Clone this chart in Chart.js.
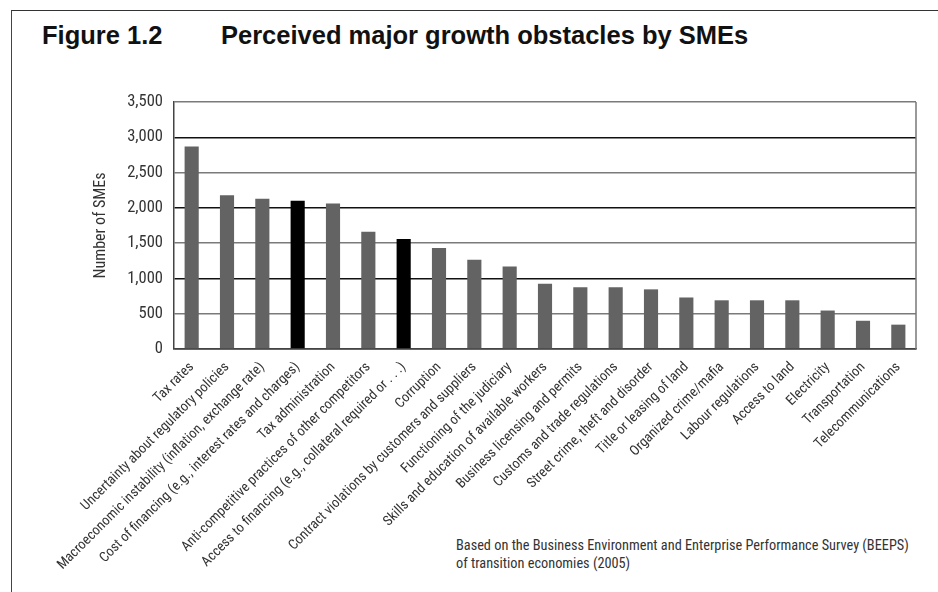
<!DOCTYPE html>
<html>
<head>
<meta charset="utf-8">
<script src="https://cdn.jsdelivr.net/npm/chart.js@4"></script>
<style>
  html, body { margin: 0; padding: 0; background: #fff; }
  #wrap { position: relative; width: 938px; height: 592px; overflow: hidden; }
  #frame { position: absolute; left: 11px; top: 10px; width: 1000px; height: 700px; border-left: 1.5px solid #444; border-top: 1.5px solid #333; }
  .title { position: absolute; top: 21px; font-family: "Liberation Sans", Arial, sans-serif; font-weight: bold; font-size: 25.5px; color: #111; white-space: nowrap; }
  .note { position: absolute; left: 456px; font-family: "Roboto Condensed", "Liberation Sans", sans-serif; font-size: 14.3px; line-height: 18px; color: #333; white-space: nowrap; }
  canvas { position: absolute; left: 0; top: 0; }
</style>
</head>
<body>
<div id="wrap">
  <div id="frame"></div>
  <div class="title" style="left:42px">Figure 1.2</div>
  <div class="title" style="left:221px">Perceived major growth obstacles by SMEs</div>
  <div class="note" style="top:536px">Based on the Business Environment and Enterprise Performance Survey (BEEPS)</div>
  <div class="note" style="top:554px">of transition economies (2005)</div>
  <canvas id="c" width="938" height="592"></canvas>
</div>
<script>
const categories = [
  "Tax rates",
  "Uncertainty about regulatory policies",
  "Macroeconomic instability (inflation, exchange rate)",
  "Cost of financing (e.g., interest rates and charges)",
  "Tax administration",
  "Anti-competitive practices of other competitors",
  "Access to financing (e.g., collateral required or . . .)",
  "Corruption",
  "Contract violations by customers and suppliers",
  "Functioning of the judiciary",
  "Skills and education of available workers",
  "Business licensing and permits",
  "Customs and trade regulations",
  "Street crime, theft and disorder",
  "Title or leasing of land",
  "Organized crime/mafia",
  "Labour regulations",
  "Access to land",
  "Electricity",
  "Transportation",
  "Telecommunications"
];
const smeCounts = [2870, 2180, 2130, 2100, 2060, 1660, 1560, 1430, 1265, 1170, 925, 875, 875, 845, 730, 690, 690, 690, 545, 400, 345];
const highlighted = [false, false, false, true, false, false, true, false, false, false, false, false, false, false, false, false, false, false, false, false, false];
const yTicks = [0, 500, 1000, 1500, 2000, 2500, 3000, 3500];

const FONT = "'Roboto Condensed', 'Liberation Sans', sans-serif";

const borderPlugin = {
  id: 'plotBorder',
  afterDraw(chart) {
    const a = chart.chartArea, ctx = chart.ctx;
    ctx.save();
    ctx.strokeStyle = '#777';
    ctx.lineWidth = 1.5;
    ctx.beginPath();
    ctx.moveTo(a.right, a.top);
    ctx.lineTo(a.right, a.bottom);
    ctx.stroke();
    ctx.restore();
  }
};

new Chart(document.getElementById('c'), {
  type: 'bar',
  data: {
    labels: categories,
    datasets: [{
      data: smeCounts,
      backgroundColor: highlighted.map(h => h ? '#000000' : '#636363'),
      categoryPercentage: 1.0,
      barPercentage: 0.4
    }]
  },
  options: {
    responsive: false,
    animation: false,
    devicePixelRatio: 1,
    layout: { padding: { top: 102, right: 22, left: 91, bottom: 0 } },
    plugins: { legend: { display: false }, tooltip: { enabled: false } },
    scales: {
      x: {
        grid: { display: false },
        border: { display: true, color: '#444', width: 1.5 },
        ticks: {
          autoSkip: false,
          maxRotation: 45, minRotation: 45,
          color: '#333',
          padding: 2,
          font: { family: FONT, size: 14 }
        },
        afterFit(scale) { scale.height = 592 - 349; }
      },
      y: {
        min: 0, max: 3500,
        afterBuildTicks(scale) { scale.ticks = yTicks.map(v => ({ value: v })); },
        grid: {
          drawTicks: false,
          lineWidth: 1.5,
          color: ctx => (ctx.tick && ctx.tick.value % 1000 === 0) ? '#111' : '#7a7a7a'
        },
        border: { display: true, color: '#444', width: 1.5 },
        ticks: {
          color: '#333',
          padding: 11,
          font: { family: FONT, size: 16.5 },
          callback: v => v.toLocaleString('en-US')
        },
        title: {
          display: true,
          text: 'Number of SMEs',
          color: '#333',
          padding: { top: 0, bottom: 0 },
          font: { family: FONT, size: 16 }
        },
        afterFit(scale) { scale.width = 174 - 91; }
      }
    }
  },
  plugins: [borderPlugin]
});
</script>
</body>
</html>
